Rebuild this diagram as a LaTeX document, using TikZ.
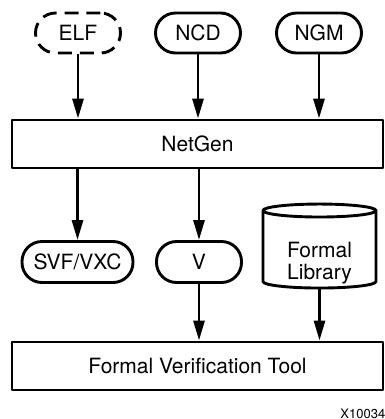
\documentclass[tikz,border=0pt]{standalone}
\usepackage{fontspec}
\setmainfont{TeX Gyre Heros}
\usetikzlibrary{arrows.meta,shapes.geometric}
\begin{document}
\begin{tikzpicture}[x=0.5pt,y=-0.5pt,>={Triangle[length=10pt,width=5.5pt]}, line width=1.45pt,
	font=\fontsize{10.5}{12.6}\selectfont, line join=round,
	file/.style={draw,rounded corners=10pt,minimum width=42.5pt,minimum height=20pt,inner sep=0pt},
	bar/.style={draw,minimum width=185.5pt,minimum height=24pt,inner sep=0pt},
	lib/.style={draw,cylinder,shape border rotate=90,aspect=0.2,minimum width=56.5pt,minimum height=42pt,inner sep=0pt}]
	\useasboundingbox (0,0) rectangle (385,419);
	% inputs
	\node[file,dashed,dash pattern=on 7pt off 4pt] (elf) at (78,33) {ELF};
	\node[file] (ncd) at (198,33) {NCD};
	\node[file] (ngm) at (319,33) {NGM};
	\node[bar] (netgen) at (197.5,144) {NetGen};
	% outputs
	\node[file,minimum width=55.5pt,minimum height=20.5pt] (svf) at (77.5,262) {SVF/VXC};
	\node[file,minimum height=20.5pt] (v) at (199,262) {V};
	\node[lib] (formallib) at (319.5,250)
		{\raisebox{-7pt}[\height][\depth]{\fontsize{10.5}{11}\selectfont\begin{tabular}{@{}c@{}}Formal\\Library\end{tabular}}};
	\node[bar] (fvt) at (197.5,366) {Formal Verification Tool};
	\node[font=\fontsize{6.5}{8}\selectfont,anchor=base west,inner sep=0pt] (tag) at (339,418) {X10034};
	% arrows
	\draw[->] (elf.south) -- (elf.south |- netgen.north);
	\draw[->] (ncd.south) -- (ncd.south |- netgen.north);
	\draw[->] (ngm.south) -- (ngm.south |- netgen.north);
	\draw[->] (netgen.south -| svf.north) -- (svf.north);
	\draw[->] (netgen.south -| v.north) -- (v.north);
	\draw[->] (v.south) -- (v.south |- fvt.north);
	\draw[->] (formallib.south) -- (formallib.south |- fvt.north);
\end{tikzpicture}
\end{document}
